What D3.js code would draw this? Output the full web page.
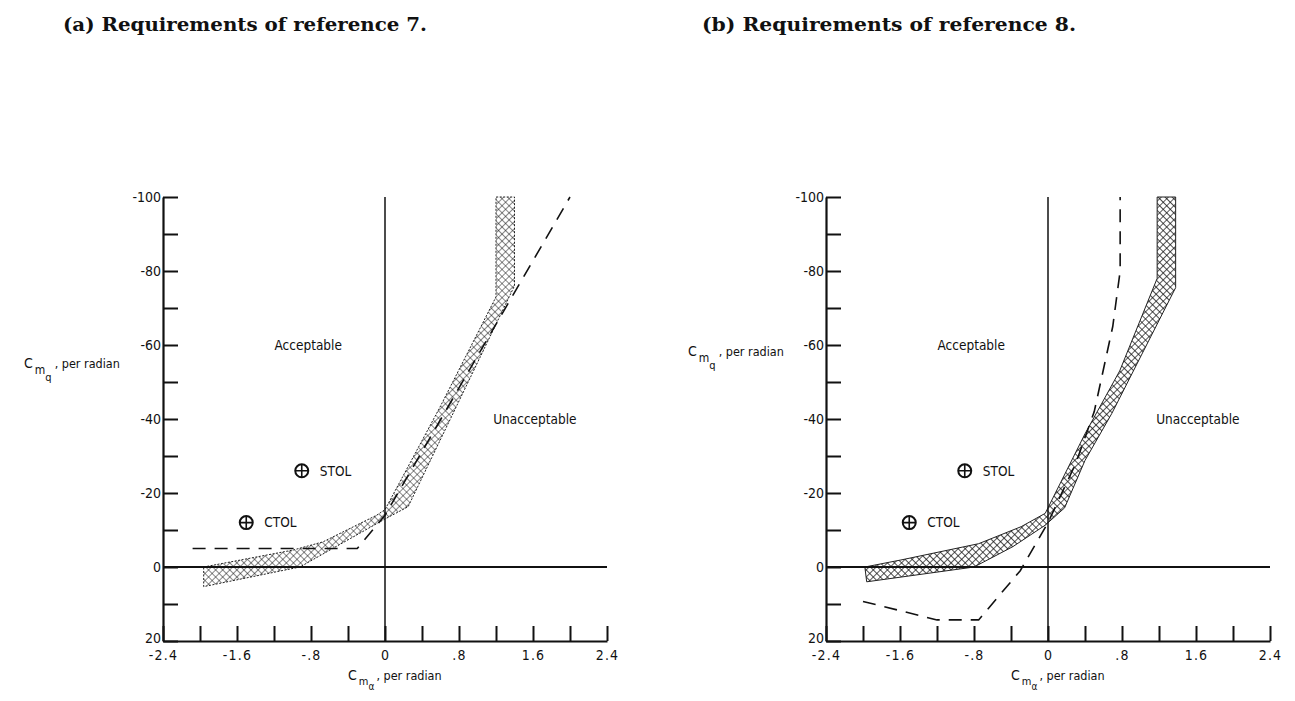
<!DOCTYPE html>
<html>
<head>
<meta charset="utf-8">
<script src="https://cdn.jsdelivr.net/npm/d3@7"></script>
<style>
  html, body { margin: 0; padding: 0; background: #fff; }
  svg { display: block; }
  .lbl { font-family: 'Liberation Sans Narrow', 'DejaVu Sans Condensed', 'Liberation Sans', sans-serif; fill: #111; }
  .ttl { font-family: 'DejaVu Serif', 'Liberation Serif', serif; font-weight: bold; fill: #111; }
</style>
</head>
<body>
<svg id="chart" width="1295" height="701"></svg>
<script>
// ---------- data ----------
const panelTitles = ["(a) Requirements of reference 7.", "(b) Requirements of reference 8."];
const xTickValues = [-2.4, -2.0, -1.6, -1.2, -0.8, -0.4, 0, 0.4, 0.8, 1.2, 1.6, 2.0, 2.4];
const xTickLabelValues = [-2.4, -1.6, -0.8, 0, 0.8, 1.6, 2.4];
const xTickLabels = ["-2.4", "-1.6", "-.8", "0", ".8", "1.6", "2.4"];
const yTickValues = [-100, -90, -80, -70, -60, -50, -40, -30, -20, -10, 0, 10, 20];
const yTickLabelValues = [-100, -80, -60, -40, -20, 0, 20];
const yTickLabels = ["-100", "-80", "-60", "-40", "-20", "0", "20"];

// boundary band (crosshatched region), reference 7
const bandA = [
  [-1.96, 0], [-0.99, -4.6], [-0.67, -6.8], [-0.09, -14], [0.0, -15.5],
  [0.59, -43], [1.2, -73], [1.2, -100], [1.4, -100], [1.4, -76],
  [0.25, -16.3], [-0.02, -12.7], [-0.92, 0], [-1.96, 5.3]
];
// dashed boundary, reference 7
const dashA = [[-2.08, -5], [-0.3, -5], [0.0, -14], [2.0, -100]];

// boundary band, reference 8
const bandB = [
  [-1.98, 0], [-1.59, -1.9], [-0.75, -6.3], [-0.29, -10.9], [-0.03, -14.5],
  [0.08, -20], [0.4, -36], [0.775, -53], [1.18, -78], [1.18, -100],
  [1.38, -100], [1.38, -75.5], [0.69, -41.5], [0.4, -28.8], [0.18, -16],
  [-0.03, -11.3], [-0.38, -5.5], [-0.8, 0], [-1.96, 4]
];
// dashed boundary, reference 8
const dashB = [
  [-2.0, 9.3], [-1.2, 14.3], [-0.75, 14.3], [-0.3, 1], [0.0, -12],
  [0.3, -28], [0.5, -42], [0.7, -65], [0.78, -80], [0.78, -100]
];

const pointNames = ["STOL", "CTOL"];
const pointX = [-0.9, -1.5];
const pointY = [-26, -12];

const regionNames = ["Acceptable", "Unacceptable"];
const regionX = [-0.83, 1.62];
const regionY = [-60, -40];

// ---------- drawing ----------
const svg = d3.select("#chart");
const defs = svg.append("defs");
function hatch(id, sw) {
  const p = defs.append("pattern").attr("id", id)
    .attr("width", 5).attr("height", 5)
    .attr("patternUnits", "userSpaceOnUse")
    .attr("patternTransform", "rotate(45)");
  p.append("rect").attr("width", 5).attr("height", 5).attr("fill", "#fff");
  p.append("path").attr("d", "M0,0 L0,5 M0,0 L5,0")
    .attr("stroke", "#111").attr("stroke-width", sw).attr("fill", "none");
}
hatch("hatchA", 1.0);
hatch("hatchB", 1.4);

const panels = [
  { x0: 163, band: bandA, dash: dashA, hatch: "hatchA", title: panelTitles[0], titleX: 63, titleW: 364 },
  { x0: 826, band: bandB, dash: dashB, hatch: "hatchB", title: panelTitles[1], titleX: 702, titleW: 374 }
];

panels.forEach((P, pi) => {
  const x = d3.scaleLinear().domain([-2.4, 2.4]).range([P.x0, P.x0 + 444]);
  const y = d3.scaleLinear().domain([-100, 20]).range([197, 641]);
  const g = svg.append("g");

  // title
  g.append("text").attr("class", "ttl")
    .attr("x", P.titleX).attr("y", 31)
    .attr("font-size", 19)
    .attr("textLength", P.titleW).attr("lengthAdjust", "spacingAndGlyphs")
    .text(P.title);

  // band
  g.append("path")
    .attr("d", d3.line().x(d => x(d[0])).y(d => y(d[1]))(P.band) + "Z")
    .attr("fill", `url(#${P.hatch})`)
    .attr("stroke", "#222").attr("stroke-width", 1)
    .attr("stroke-dasharray", pi === 0 ? "2,1.5" : null);

  // zero lines
  g.append("line").attr("x1", x(-2.4)).attr("x2", x(2.4))
    .attr("y1", y(0)).attr("y2", y(0))
    .attr("stroke", "#111").attr("stroke-width", 1.8);
  g.append("line").attr("x1", x(0)).attr("x2", x(0))
    .attr("y1", y(-100)).attr("y2", y(20))
    .attr("stroke", "#111").attr("stroke-width", 1.5);

  // dashed boundary
  g.append("path")
    .attr("d", d3.line().x(d => x(d[0])).y(d => y(d[1]))(P.dash))
    .attr("fill", "none").attr("stroke", "#111").attr("stroke-width", 1.6)
    .attr("stroke-dasharray", "13,9");

  // axes
  const yAxis = d3.axisLeft(y).tickValues(yTickValues).tickSize(-15).tickSizeOuter(0).tickPadding(2)
    .tickFormat(v => { const i = yTickLabelValues.indexOf(v); return i >= 0 ? yTickLabels[i] : ""; });
  const ya = g.append("g").attr("transform", `translate(${x(-2.4)},0)`).call(yAxis);
  const xAxis = d3.axisBottom(x).tickValues(xTickValues).tickSize(-15).tickSizeOuter(0).tickPadding(7)
    .tickFormat(v => { const i = xTickLabelValues.findIndex(t => Math.abs(t - v) < 1e-9); return i >= 0 ? xTickLabels[i] : ""; });
  const xa = g.append("g").attr("transform", `translate(0,${y(20)})`).call(xAxis);
  [ya, xa].forEach(a => {
    a.select(".domain").attr("stroke", "#111").attr("stroke-width", 2.2);
    a.selectAll(".tick line").attr("stroke", "#111").attr("stroke-width", 2);
    a.selectAll(".tick text").attr("class", "lbl").attr("font-size", 14).attr("fill", "#111");
  });
  xa.selectAll(".tick text").attr("letter-spacing", 1.2).attr("dy", "0.85em");
  ya.selectAll(".tick text").attr("dy", v => v === 20 ? "0.1em" : "0.35em");

  // axis titles
  const xt = g.append("text").attr("class", "lbl").attr("font-size", 12.5)
    .attr("x", x(-0.4)).attr("y", 680);
  xt.append("tspan").attr("font-size", 14).text("C");
  xt.append("tspan").attr("dy", 5).attr("dx", 2).attr("font-size", 11).text("m");
  xt.append("tspan").attr("dy", 5).attr("font-size", 10).text("α");
  xt.append("tspan").attr("dy", -10).attr("dx", 2).text(", per radian");

  const ytx = pi === 0 ? 24 : 688;
  const yty = pi === 0 ? 368 : 356;
  const yt = g.append("text").attr("class", "lbl").attr("font-size", 12.5)
    .attr("x", ytx).attr("y", yty);
  yt.append("tspan").attr("font-size", 14).text("C");
  yt.append("tspan").attr("dy", 6).attr("dx", 2).attr("font-size", 12).text("m");
  yt.append("tspan").attr("dy", 7).attr("font-size", 11).text("q");
  yt.append("tspan").attr("dy", -13).attr("dx", 3).text(", per radian");

  // region labels
  regionNames.forEach((n, i) => {
    g.append("text").attr("class", "lbl").attr("font-size", 13.5)
      .attr("x", x(regionX[i])).attr("y", y(regionY[i]))
      .attr("text-anchor", "middle").attr("dy", "0.35em").text(n);
  });

  // points
  pointNames.forEach((n, i) => {
    const cx = x(pointX[i]), cy = y(pointY[i]);
    g.append("circle").attr("cx", cx).attr("cy", cy).attr("r", 6.5)
      .attr("fill", "none").attr("stroke", "#111").attr("stroke-width", 2);
    g.append("path").attr("d", `M${cx - 6.5},${cy}H${cx + 6.5}M${cx},${cy - 6.5}V${cy + 6.5}`)
      .attr("stroke", "#111").attr("stroke-width", 1.6);
    g.append("text").attr("class", "lbl").attr("font-size", 13.5)
      .attr("x", cx + 18).attr("y", cy).attr("dy", "0.35em").text(n);
  });
});
</script>
</body>
</html>
